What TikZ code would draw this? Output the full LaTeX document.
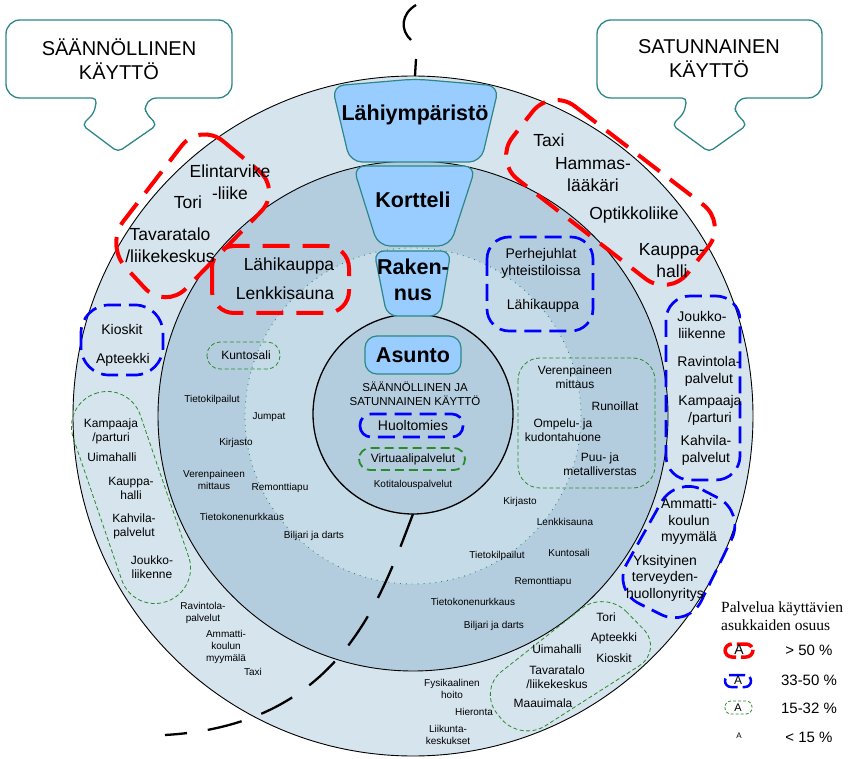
\documentclass[tikz,border=0pt]{standalone}
\usepackage{fontspec}
\setmainfont{Liberation Sans}
\newfontfamily\legserif{Liberation Serif}
\newcommand\fsz[2]{\fontsize{#1}{#2}\selectfont}
\definecolor{ringA}{RGB}{214,228,238}
\definecolor{ringB}{RGB}{180,205,222}
\definecolor{ringC}{RGB}{198,219,232}
\definecolor{lvlfill}{RGB}{153,204,255}
\definecolor{tealc}{RGB}{45,135,135}
\definecolor{greenc}{RGB}{40,140,40}
\begin{document}
\begin{tikzpicture}[x=1pt,y=-1pt,
  txt/.style={inner sep=0pt, align=center},
  big/.style={txt, font=\fsz{17.5}{22}},
  med/.style={txt, font=\fsz{14}{16.5}},
  sml/.style={txt, font=\fsz{12}{14}},
  tiny/.style={txt, font=\fsz{10}{12}},
  lvl/.style={txt, font=\bfseries\fsz{21.5}{26}},
  lvlbox/.style={draw=tealc, fill=lvlfill, line width=1.2pt},
  callout/.style={draw=tealc, fill=white, line width=1.3pt},
  redblob/.style={draw=red, line width=4pt, dash pattern=on 27pt off 13pt, rounded corners=30pt},
  blueblob/.style={draw=blue, line width=2.7pt, dash pattern=on 17pt off 8pt, rounded corners=24pt},
  greenblob/.style={draw=greenc, line width=0.8pt, dash pattern=on 4pt off 2.5pt, rounded corners=22pt},
  blackdash/.style={draw=black, line width=2.3pt, dash pattern=on 35pt off 21pt}]
\useasboundingbox (0,0) rectangle (849,759);

% rings
\coordinate (c) at (413,416);
\fill[ringA] (c) circle[radius=340pt];
\draw[black, line width=0.9pt] (c) circle[radius=340pt];
\fill[ringB] (c) circle[radius=255pt];
\draw[black, line width=0.9pt] (c) circle[radius=255pt];
\fill[ringC] (c) circle[radius=168pt];
\draw[tealc, line width=0.9pt, dash pattern=on 0.9pt off 5pt] (c) circle[radius=168pt];
\fill[ringB] (413,414) circle[radius=100pt];
\draw[black, line width=1.3pt] (413,414) circle[radius=100pt];

% black dashed dividing line
\coordinate (dl0) at (413,514);
\coordinate (dl1) at (165,735);
\draw[blackdash] (dl0) .. controls (380,600) and (340,725) .. (dl1);
\coordinate (tp0) at (411,40);
\coordinate (tp1) at (416,5);
\draw[black, line width=2.3pt] (tp0) .. controls (400,30) and (401,14) .. (tp1);
\coordinate (tq0) at (416,59);
\coordinate (tq1) at (415,76);
\draw[black, line width=2.3pt] (tq0) -- (tq1);

% callouts
\draw[callout] (120,20) [rounded corners=14pt] -- (232,20) -- (232,98) -- (143,98) [rounded corners=5pt] -- (146,113) -- (157,125) -- (118,152) -- (82,125) -- (94,113) -- (97,98) [rounded corners=14pt] -- (6,98) -- (6,20) -- cycle;
\node[txt, font=\fsz{20}{24}] (cl) at (119,59) {SÄÄNNÖLLINEN\\KÄYTTÖ};
\draw[callout] (710,20) [rounded corners=14pt] -- (822,20) -- (822,98) -- (733,98) [rounded corners=5pt] -- (736,113) -- (747,125) -- (709,152) -- (672,125) -- (684,113) -- (687,98) [rounded corners=14pt] -- (597,98) -- (597,20) -- cycle;
\node[txt, font=\fsz{20}{24}] (cr) at (709,59) {SATUNNAINEN\\KÄYTTÖ};

% level boxes
\draw[lvlbox, rounded corners=12pt] (332,86) -- (415,79) -- (499,86) -- (481,162) -- (350,162) -- cycle;
\node[lvl] (l1) at (415,115) {Lähiympäristö};
\draw[lvlbox, rounded corners=12pt] (353,166) -- (476,166) -- (450,246) -- (378,246) -- cycle;
\node[lvl] (l2) at (413,200) {Kortteli};
\draw[lvlbox, rounded corners=10pt] (374,251) -- (451,251) -- (440,316) -- (387,316) -- cycle;
\node[lvl] (l3) at (413,280) {Raken-\\nus};
\draw[lvlbox, rounded corners=12pt] (365,336) rectangle (461,374);
\node[lvl] (l4) at (413,355) {Asunto};

% red blobs
\draw[redblob] (200,122) -- (282,190) -- (165,310) -- (105,245) -- cycle;
\draw[redblob, rounded corners=22pt] (212,246) rectangle (349,313);
\draw[redblob] (551,88) -- (727,223) -- (669,297) -- (494,161) -- cycle;

% blue blobs
\draw[blueblob, rounded corners=28pt] (81,305) rectangle (163,375);
\draw[blueblob, rounded corners=22pt] (487,237) rectangle (593,331);
\draw[blueblob, rounded corners=24pt] (666,296) rectangle (740,480);
\draw[blueblob, rounded corners=30pt] (676,476) -- (745,512) -- (688,628) -- (612,590) -- cycle;
\draw[blueblob, rounded corners=11pt] (360,414) rectangle (463,437);

% green blobs
\draw[greenblob, rounded corners=13pt] (207,342) rectangle (280,369);
\draw[greenblob, line width=1.8pt, dash pattern=on 9pt off 5pt, rounded corners=11pt] (359,448) rectangle (465,470);
\draw[greenblob] (518,358) rectangle (655,488);
\draw[greenblob, rounded corners=35pt] (62,405) -- (129,382) -- (200,590) -- (133,613) -- cycle;
\draw[greenblob, rounded corners=30pt] (605,590) -- (664,650) -- (520,742) -- (478,690) -- cycle;

% red texts
\node[big] (t1) at (230,182) {Elintarvike\\-liike};
\node[big] (t2) at (188,202) {Tori};
\node[big] (t3) at (170,245.5) {Tavaratalo\\/liikekeskus};
\node[big] (t4) at (289,266) {Lähikauppa};
\node[big] (t5) at (285,293) {Lenkkisauna};
\node[big] (t6) at (549,140) {Taxi};
\node[big] (t7) at (593,175) {Hammas-\\lääkäri};
\node[big] (t8) at (634,215) {Optikkoliike};
\node[big] (t9) at (672,261) {Kauppa-\\halli};

% blue texts
\node[med] (b1) at (122,329) {Kioskit};
\node[med] (b2) at (123,360) {Apteekki};
\node[med] (b3) at (541,263.5) {Perhejuhlat\\yhteistiloissa};
\node[med] (b4) at (543,306) {Lähikauppa};
\node[med] (b5) at (702,325) {Joukko-\\liikenne};
\node[med] (b6) at (709,371.5) {Ravintola-\\palvelut};
\node[med] (b7) at (710,410.5) {Kampaaja\\/parturi};
\node[med] (b8) at (706,450.5) {Kahvila-\\palvelut};
\node[med] (b9) at (689,521.5) {Ammatti-\\koulun\\myymälä};
\node[med] (b10) at (665,578) {Yksityinen\\terveyden-\\huollonyritys};
\node[med] (b11) at (413,425) {Huoltomies};

% asunto texts
\node[txt, font=\fsz{11.5}{14}] (a1) at (415,394) {SÄÄNNÖLLINEN JA\\SATUNNAINEN KÄYTTÖ};
\node[sml] (a2) at (413,459) {Virtuaalipalvelut};
\node[tiny] (a3) at (413,485) {Kotitalouspalvelut};

% green texts
\node[sml] (g1) at (246,355) {Kuntosali};
\node[sml] (g2) at (575,377) {Verenpaineen\\mittaus};
\node[sml] (g3) at (615,406) {Runoillat};
\node[sml] (g4) at (563,430.5) {Ompelu- ja\\kudontahuone};
\node[sml] (g5) at (600,464.5) {Puu- ja\\metalliverstas};
\node[sml] (g6) at (111,431) {Kampaaja\\/parturi};
\node[sml] (g7) at (112,457) {Uimahalli};
\node[sml] (g8) at (131,488) {Kauppa-\\halli};
\node[sml] (g9) at (134,526.5) {Kahvila-\\palvelut};
\node[sml] (g10) at (152,567) {Joukko-\\liikenne};
\node[sml] (g11) at (606,617) {Tori};
\node[sml] (g12) at (614,638) {Apteekki};
\node[sml] (g13) at (614,658) {Kioskit};
\node[sml] (g14) at (557,649) {Uimahalli};
\node[sml] (g15) at (557,677) {Tavaratalo\\/liikekeskus};
\node[sml] (g16) at (543,703) {Maauimala};

% tiny texts
\node[tiny] (s1) at (212,400) {Tietokilpailut};
\node[tiny] (s2) at (269,417) {Jumpat};
\node[tiny] (s3) at (236,443) {Kirjasto};
\node[tiny] (s4) at (214,480) {Verenpaineen\\mittaus};
\node[tiny] (s5) at (280,488) {Remonttiapu};
\node[tiny] (s6) at (242,517) {Tietokonenurkkaus};
\node[tiny] (s7) at (314,536) {Biljari ja darts};
\node[tiny] (s8) at (203,613) {Ravintola-\\palvelut};
\node[tiny] (s9) at (226,646.5) {Ammatti-\\koulun\\myymälä};
\node[tiny] (s10) at (253,672) {Taxi};
\node[tiny] (s11) at (520,502) {Kirjasto};
\node[tiny] (s12) at (565,522) {Lenkkisauna};
\node[tiny] (s13) at (497,556) {Tietokilpailut};
\node[tiny] (s14) at (569,553) {Kuntosali};
\node[tiny] (s15) at (543,582) {Remonttiapu};
\node[tiny] (s16) at (473,602) {Tietokonenurkkaus};
\node[tiny] (s17) at (494,626) {Biljari ja darts};
\node[tiny] (s18) at (452,689) {Fysikaalinen\\hoito};
\node[tiny] (s19) at (474,712) {Hieronta};
\node[tiny] (s20) at (448,734.5) {Liikunta-\\keskukset};

% legend
\node[anchor=west, inner sep=0pt, align=left, font=\legserif\fsz{15.5}{18}] (lg) at (721,616) {Palvelua käyttävien\\asukkaiden osuus};
\draw[draw=red, line width=3.5pt, dash pattern=on 16pt off 5pt, rounded corners=7pt] (725,644) rectangle (753,657);
\node[txt, font=\fsz{14}{16}] (la1) at (739,650) {A};
\node[txt, font=\fsz{15}{18}] (lp1) at (809,650) {> 50 \%};
\draw[draw=blue, line width=2.5pt, dash pattern=on 16pt off 5pt, rounded corners=6pt] (725,675) rectangle (751,687);
\node[txt, font=\fsz{12}{14}] (la2) at (738,680) {A};
\node[txt, font=\fsz{15}{18}] (lp2) at (809,680) {33-50 \%};
\draw[draw=greenc, line width=0.8pt, dash pattern=on 3pt off 2pt, rounded corners=6pt] (725,701) rectangle (752,714);
\node[txt, font=\fsz{11}{13}] (la3) at (738,708) {A};
\node[txt, font=\fsz{15}{18}] (lp3) at (809,708) {15-32 \%};
\node[txt, font=\fsz{8}{10}] (la4) at (739,736) {A};
\node[txt, font=\fsz{15}{18}] (lp4) at (809,737) {< 15 \%};
\end{tikzpicture}
\end{document}
